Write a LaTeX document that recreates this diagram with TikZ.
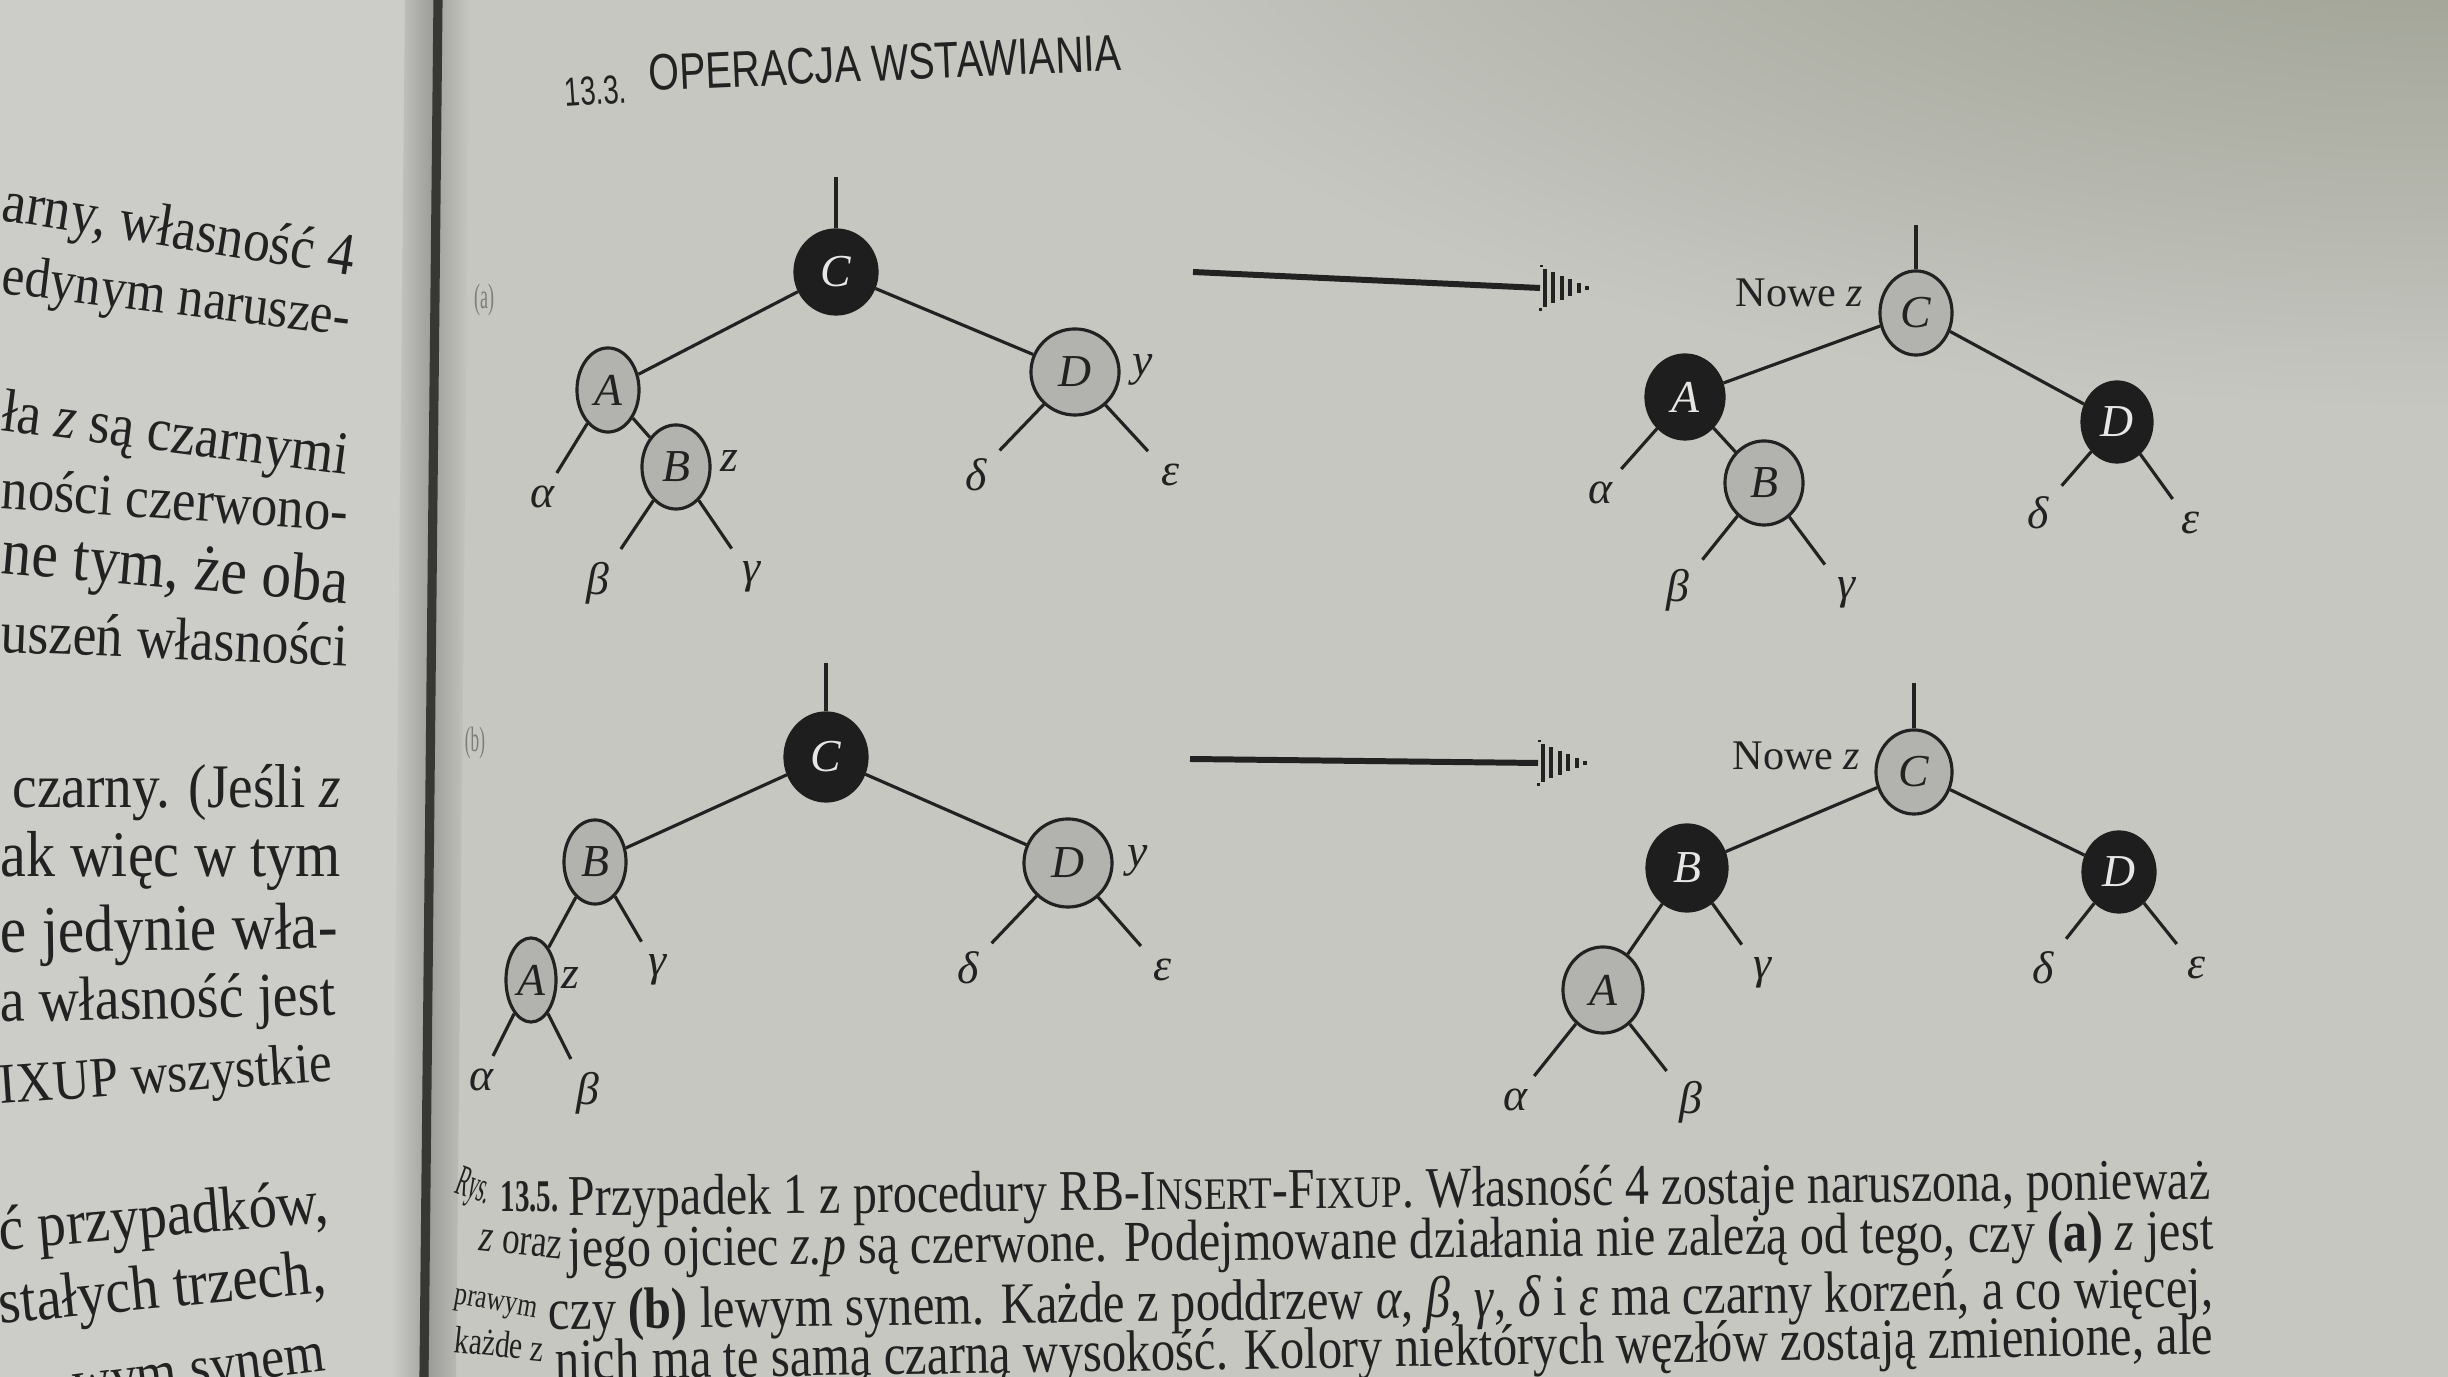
\documentclass[tikz,border=0pt]{standalone}
\usepackage{fontspec}
\setmainfont{Liberation Serif}
\newfontfamily\rbhead{Liberation Sans}
\usetikzlibrary{shapes.geometric}
\definecolor{pagec}{RGB}{198,199,193}
\definecolor{pageleft}{RGB}{204,205,201}
\definecolor{pagedark}{RGB}{152,155,140}
\definecolor{ink}{RGB}{34,34,34}
\definecolor{nodegry}{RGB}{178,179,175}
\definecolor{nodeblk}{RGB}{30,30,30}
\definecolor{nodetxt}{RGB}{230,230,228}
\definecolor{faint}{RGB}{125,126,122}
\definecolor{gutterc}{RGB}{55,56,54}
\definecolor{shadowc}{RGB}{150,151,147}
\newcommand\rbnodefont{\fontsize{13}{15}\selectfont\itshape}
\newcommand\rbleaffont{\fontsize{13}{15}\selectfont\itshape}
\newcommand\rbsc[1]{{\fontsize{7.8}{9}\selectfont #1}}
\newcommand\rbcap{\fontsize{10}{12}\selectfont}
\newcommand\rbbody{\fontsize{16}{18}\selectfont}
\newcommand\rbtall[2]{\scalebox{1}[#1]{#2}}
\tikzset{
  blk/.style={ellipse,inner sep=0pt,fill=nodeblk,draw=nodeblk,line width=0.9pt,text=nodetxt,font=\rbnodefont},
  gry/.style={ellipse,inner sep=0pt,fill=nodegry,draw=ink,line width=0.9pt,text=ink,font=\rbnodefont},
  sz/.style 2 args={minimum width=#1*0.02cm,minimum height=#2*0.02cm},
  rbleaf/.style={inner sep=3.5pt,font=\rbleaffont,text=ink},
  rblbl/.style={inner sep=1pt,font=\rbleaffont,text=ink},
  rbedge/.style={draw=ink,line width=0.9pt},
  arrline/.style={draw=ink,line width=1.7pt},
  ptxt/.style={anchor=base west,inner sep=0pt,text=ink},
  nowez/.style={anchor=base east,inner sep=0pt,text=ink,font=\fontsize{12}{14}\selectfont},
  hatchhead/.pic={
    \foreach \i/\h in {0/19,1/15.5,2/12,3/8.5,4/5,5/2}{
      \fill[ink] ({\i*8.5+2.5},{-\h}) rectangle ({\i*8.5+6.5},{\h});
    }
    \fill[ink] (0,-23) rectangle (3,-20.5);
    \fill[ink] (-1,20.5) rectangle (2,23);
  }
}
\begin{document}
\begin{tikzpicture}[x=0.01cm,y=-0.01cm]
\useasboundingbox (0,0) rectangle (2448,1377);
\clip (0,0) rectangle (2448,1377);
% paper
\fill[pagec] (0,0) rectangle (2448,1377);
\shade[inner color=pagedark, outer color=pagec] (2448,-150) ellipse (1450 and 560);
\fill[pageleft] (0,0) -- (438,0) -- (424,1377) -- (0,1377) -- cycle;
\shade[left color=pageleft, right color=shadowc] (405,0) -- (438,0) -- (424,1377) -- (391,1377) -- cycle;
\shade[left color=shadowc, right color=pagec] (438,0) -- (470,0) -- (456,1377) -- (424,1377) -- cycle;
\draw[gutterc, line width=2.6pt] (438,0) -- (424,1377);

% left page text
\node[ptxt,rotate=-9] (l1) at (0,220) {\resizebox{3.55cm}{!}{\rbtall{1.12}{\rbbody arny, własność 4}}};
\node[ptxt,rotate=-7] (l2) at (0,293) {\resizebox{3.50cm}{!}{\rbtall{1.12}{\rbbody edynym narusze-}}};
\node[ptxt,rotate=-7.4] (l3) at (0,430) {\resizebox{3.48cm}{!}{\rbtall{1.12}{\rbbody ła \textit{z} są czarnymi}}};
\node[ptxt,rotate=-3.8] (l4) at (0,508) {\resizebox{3.47cm}{!}{\rbtall{1.12}{\rbbody ności czerwono-}}};
\node[ptxt,rotate=-5] (l5) at (0,573) {\resizebox{3.47cm}{!}{\rbtall{1.12}{\rbbody ne tym, że oba}}};
\node[ptxt,rotate=-2.3] (l6) at (0,652) {\resizebox{3.47cm}{!}{\rbtall{1.12}{\rbbody uszeń własności}}};
\node[ptxt] (l7) at (12,808) {\resizebox{3.28cm}{!}{\rbtall{1.12}{\rbbody czarny. (Jeśli \textit{z}}}};
\node[ptxt] (l8) at (0,877) {\resizebox{3.40cm}{!}{\rbtall{1.12}{\rbbody ak więc w tym}}};
\node[ptxt,rotate=0.8] (l9) at (0,953) {\resizebox{3.37cm}{!}{\rbtall{1.12}{\rbbody e jedynie wła-}}};
\node[ptxt,rotate=1.2] (l10) at (0,1022) {\resizebox{3.35cm}{!}{\rbtall{1.12}{\rbbody a własność jest}}};
\node[ptxt,rotate=4] (l11) at (0,1104) {\resizebox{3.33cm}{!}{\rbtall{1.12}{\rbbody IXUP wszystkie}}};
\node[ptxt,rotate=4.9] (l12) at (-22,1252) {\resizebox{3.52cm}{!}{\rbtall{1.12}{\rbbody ść przypadków,}}};
\node[ptxt,rotate=5.6] (l13) at (0,1324) {\resizebox{3.28cm}{!}{\rbtall{1.12}{\rbbody stałych trzech,}}};
\node[ptxt,rotate=7] (l14) at (75,1402) {\resizebox{2.53cm}{!}{\rbtall{1.12}{\rbbody wym synem}}};

% header
\node[ptxt,rotate=4] (h1) at (565,107) {\resizebox{0.62cm}{!}{\rbtall{1.45}{\rbhead 13.3.}}};
\node[ptxt,rotate=2.5] (h2) at (649,91) {\resizebox{4.72cm}{!}{\rbtall{1.3}{\rbhead OPERACJA WSTAWIANIA}}};

% case labels
\node[text=faint,inner sep=0pt] (labA) at (484,300) {\resizebox*{0.20cm}{0.32cm}{(a)}};
\node[text=faint,inner sep=0pt] (labB) at (475,743) {\resizebox*{0.20cm}{0.32cm}{(b)}};

% ---------- tree (a) left ----------
\node[blk,sz={41}{42}] (aC) at (836,272) {C};
\node[gry,sz={31}{42}] (aA) at (608,390) {A};
\node[gry,sz={34}{42}] (aB) at (676,467) {B};
\node[gry,sz={44}{43}] (aD) at (1075,372) {D};
\node[rblbl] (az) at (729,461) {z};
\node[rblbl] (ay) at (1143,370) {y};
\node[rbleaf] (aal) at (542,497) {α};
\node[rbleaf] (abe) at (598,583) {β};
\node[rbleaf] (aga) at (751,577) {γ};
\node[rbleaf] (ade) at (976,475) {δ};
\node[rbleaf] (aep) at (1170,475) {ε};
\coordinate (aR) at (836,177);
\draw[rbedge] (aR) -- (aC);
\draw[rbedge] (aC) -- (aA);
\draw[rbedge] (aC) -- (aD);
\draw[rbedge] (aA) -- (aal);
\draw[rbedge] (aA) -- (aB);
\draw[rbedge] (aB) -- (abe);
\draw[rbedge] (aB) -- (aga);
\draw[rbedge] (aD) -- (ade);
\draw[rbedge] (aD) -- (aep);

% arrow (a)
\coordinate (arA1) at (1193,272);
\coordinate (arA2) at (1540,288);
\draw[arrline] (arA1) -- (arA2);
\pic at (arA2) {hatchhead};

% ---------- tree (a) right ----------
\node[gry,sz={36}{42}] (bC) at (1916,313) {C};
\node[blk,sz={39}{42}] (bA) at (1685,397) {A};
\node[gry,sz={39}{42}] (bB) at (1764,483) {B};
\node[blk,sz={35}{40}] (bD) at (2117,422) {D};
\node[nowez] (bnz) at (1864,307) {Nowe \textit{z}};
\node[rbleaf] (bal) at (1600,493) {α};
\node[rbleaf] (bbe) at (1678,590) {β};
\node[rbleaf] (bga) at (1846,593) {γ};
\node[rbleaf] (bde) at (2038,513) {δ};
\node[rbleaf] (bep) at (2190,523) {ε};
\coordinate (bR) at (1916,225);
\draw[rbedge] (bR) -- (bC);
\draw[rbedge] (bC) -- (bA);
\draw[rbedge] (bC) -- (bD);
\draw[rbedge] (bA) -- (bal);
\draw[rbedge] (bA) -- (bB);
\draw[rbedge] (bB) -- (bbe);
\draw[rbedge] (bB) -- (bga);
\draw[rbedge] (bD) -- (bde);
\draw[rbedge] (bD) -- (bep);

% ---------- tree (b) left ----------
\node[blk,sz={41}{44}] (cC) at (826,757) {C};
\node[gry,sz={31}{42}] (cB) at (595,862) {B};
\node[gry,sz={25}{42}] (cA) at (531,980) {A};
\node[gry,sz={44}{44}] (cD) at (1068,863) {D};
\node[rblbl] (cz) at (570,978) {z};
\node[rblbl] (cy) at (1138,861) {y};
\node[rbleaf] (cga) at (658,970) {γ};
\node[rbleaf] (cal) at (481,1080) {α};
\node[rbleaf] (cbe) at (588,1093) {β};
\node[rbleaf] (cde) at (968,968) {δ};
\node[rbleaf] (cep) at (1162,970) {ε};
\coordinate (cR) at (826,663);
\draw[rbedge] (cR) -- (cC);
\draw[rbedge] (cC) -- (cB);
\draw[rbedge] (cC) -- (cD);
\draw[rbedge] (cB) -- (cA);
\draw[rbedge] (cB) -- (cga);
\draw[rbedge] (cA) -- (cal);
\draw[rbedge] (cA) -- (cbe);
\draw[rbedge] (cD) -- (cde);
\draw[rbedge] (cD) -- (cep);

% arrow (b)
\coordinate (arB1) at (1190,759);
\coordinate (arB2) at (1538,763);
\draw[arrline] (arB1) -- (arB2);
\pic at (arB2) {hatchhead};

% ---------- tree (b) right ----------
\node[gry,sz={38}{42}] (dC) at (1914,772) {C};
\node[blk,sz={40}{43}] (dB) at (1687,868) {B};
\node[blk,sz={36}{40}] (dD) at (2119,872) {D};
\node[gry,sz={40}{43}] (dA) at (1603,990) {A};
\node[nowez] (dnz) at (1861,770) {Nowe \textit{z}};
\node[rbleaf] (dga) at (1762,973) {γ};
\node[rbleaf] (dde) at (2043,968) {δ};
\node[rbleaf] (dep) at (2196,968) {ε};
\node[rbleaf] (dal) at (1515,1100) {α};
\node[rbleaf] (dbe) at (1691,1102) {β};
\coordinate (dR) at (1914,683);
\draw[rbedge] (dR) -- (dC);
\draw[rbedge] (dC) -- (dB);
\draw[rbedge] (dC) -- (dD);
\draw[rbedge] (dB) -- (dA);
\draw[rbedge] (dB) -- (dga);
\draw[rbedge] (dA) -- (dal);
\draw[rbedge] (dA) -- (dbe);
\draw[rbedge] (dD) -- (dde);
\draw[rbedge] (dD) -- (dep);

% ---------- caption ----------
\node[ptxt,rotate=-20] (k0) at (453,1192) {\resizebox*{0.35cm}{0.38cm}{\rbcap Rys.}};
\node[ptxt] (k1) at (500,1212) {\resizebox{0.58cm}{0.30cm}{\rbcap\bfseries 13.5.}};
\node[ptxt,rotate=0.6] (k2) at (568,1216) {\resizebox{16.41cm}{!}{\rbtall{1.2}{\rbcap Przypadek 1 z procedury RB-I\rbsc{NSERT}-F\rbsc{IXUP}. Własność 4 zostaje naruszona, ponieważ}}};
\node[ptxt,rotate=-6] (k3) at (478,1250) {\resizebox{0.83cm}{!}{\rbtall{1.3}{\rbcap \textit{z} oraz}}};
\node[ptxt,rotate=0.6] (k4) at (568,1267) {\resizebox{16.44cm}{!}{\rbtall{1.2}{\rbcap jego ojciec \textit{z.p} są czerwone. Podejmowane działania nie zależą od tego, czy \textbf{(a)} \textit{z} jest}}};
\node[ptxt,rotate=-10] (k5) at (453,1303) {\resizebox{0.83cm}{!}{\rbtall{1.3}{\rbcap prawym}}};
\node[ptxt,rotate=0.8] (k6) at (548,1330) {\resizebox{16.64cm}{!}{\rbtall{1.2}{\rbcap czy \textbf{(b)} lewym synem. Każde z poddrzew \textit{α}, \textit{β}, \textit{γ}, \textit{δ} i \textit{ε} ma czarny korzeń, a co więcej,}}};
\node[ptxt,rotate=-6] (k7) at (453,1352) {\resizebox{0.89cm}{!}{\rbtall{1.3}{\rbcap każde z}}};
\node[ptxt,rotate=0.9] (k8) at (555,1380) {\resizebox{16.57cm}{!}{\rbtall{1.2}{\rbcap nich ma tę samą czarną wysokość. Kolory niektórych węzłów zostają zmienione, ale}}};
\end{tikzpicture}
\end{document}
